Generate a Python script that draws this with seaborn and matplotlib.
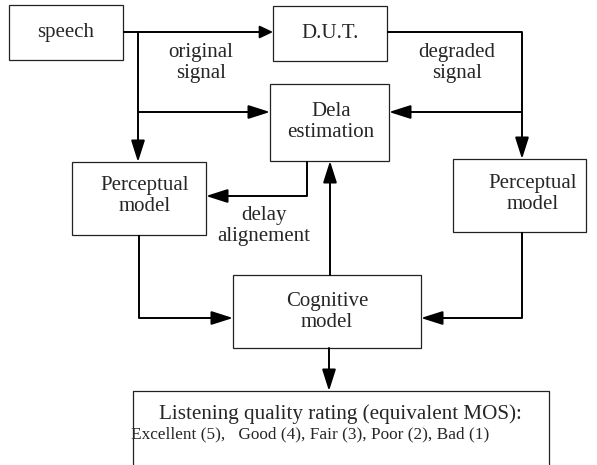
import seaborn as sns
import matplotlib.pyplot as plt
from matplotlib.patches import Rectangle

sns.set_theme(style="white")
plt.rcParams["font.family"] = ["Liberation Serif", "DejaVu Serif"]

# block labels
labels = ["speech", "D.U.T.", "Dela\nestimation", "Perceptual\nmodel",
          "Perceptual\nmodel", "Cognitive\nmodel"]
# boxes in pixel coords: x0, y0, x1, y1 (y downward)
boxes = [(9, 5, 123, 60), (273, 6, 387, 61), (270, 84, 389, 161),
         (72, 162, 206, 235), (453, 159, 586, 232), (233, 275, 421, 348)]
label_xy = [(66, 32), (330, 33), (331, 122), (145, 196), (533, 194), (327, 312)]

# side notes on the signal paths
notes = ["original\nsignal", "degraded\nsignal", "delay\nalignement"]
notes_xy = [(201, 63), (457, 63), (264, 226)]

rating_title = "Listening quality rating (equivalent MOS):"
rating_scale = "Excellent (5),   Good (4), Fair (3), Poor (2), Bad (1)"

# plain connector segments
lines = [
    [(123, 32), (138, 32)],
    [(387, 32), (522, 32)],
    [(307, 161), (307, 196)],
    [(139, 235), (139, 318)],
    [(522, 232), (522, 318)],
]
# arrows: (start, end, big head?)
arrows = [
    ((138, 32), (273, 32), False),
    ((138, 32), (138, 162), True),
    ((138, 112), (270, 112), True),
    ((522, 32), (522, 159), True),
    ((522, 112), (389, 112), True),
    ((307, 196), (206, 196), True),
    ((330, 275), (330, 161), True),
    ((139, 318), (233, 318), True),
    ((522, 318), (421, 318), True),
    ((329, 348), (329, 391), True),
]

fig = plt.figure(figsize=(5.97, 4.65), dpi=100)
ax = fig.add_axes([0, 0, 1, 1])
ax.set_xlim(0, 597)
ax.set_ylim(465, 0)
ax.axis("off")

for (x0, y0, x1, y1), lab, (tx, ty) in zip(boxes, labels, label_xy):
    ax.add_patch(Rectangle((x0, y0), x1 - x0, y1 - y0, fill=False,
                           ec="#222222", lw=0.9))
    ax.text(tx, ty, lab, ha="center", va="center", fontsize=15,
            linespacing=1.1)

for txt, (tx, ty) in zip(notes, notes_xy):
    ax.text(tx, ty, txt, ha="center", va="center", fontsize=15,
            linespacing=1.1)

for seg in lines:
    (xa, ya), (xb, yb) = seg
    ax.plot([xa, xb], [ya, yb], color="black", lw=1.4, solid_capstyle="butt")

for (xa, ya), (xb, yb), big in arrows:
    style = ("-|>,head_length=0.66,head_width=0.21" if big
             else "-|>,head_length=0.4,head_width=0.19")
    ax.annotate("", xy=(xb, yb), xytext=(xa, ya),
                arrowprops=dict(arrowstyle=style, mutation_scale=20,
                                color="black", lw=1.4,
                                shrinkA=0, shrinkB=0))

# rating box, open at the bottom edge
ax.plot([133, 133, 549, 549], [465, 391, 391, 465], color="#222222", lw=0.9)
ax.text(340, 414, rating_title, ha="center", va="center", fontsize=15.2)
ax.text(310, 434, rating_scale, ha="center", va="center", fontsize=12.4)

fig.savefig("out.png", dpi=100)
